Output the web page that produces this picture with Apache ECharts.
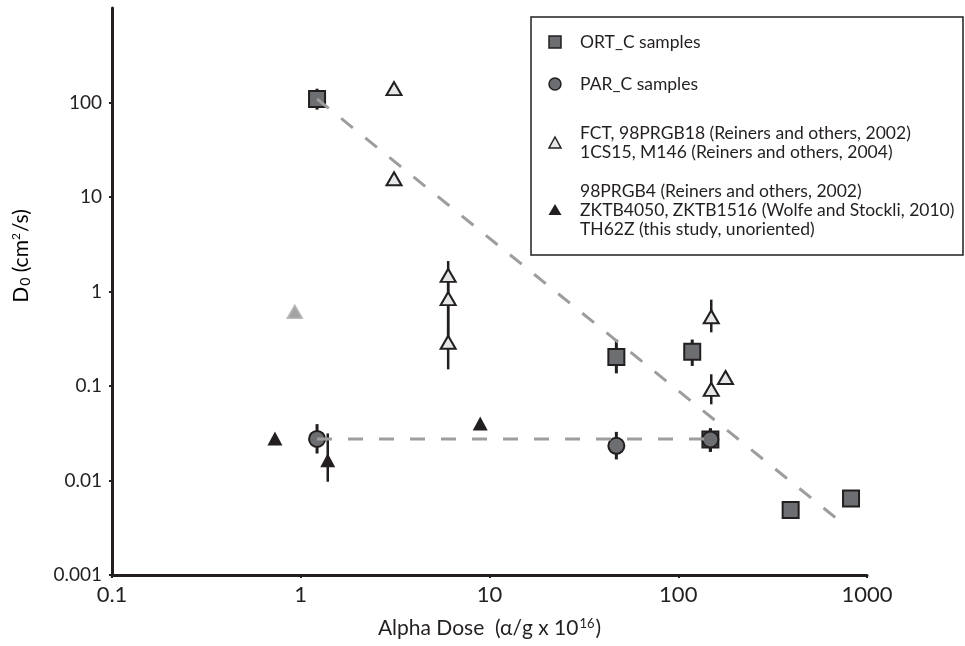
<!DOCTYPE html>
<html>
<head>
<meta charset="utf-8">
<script src="https://cdn.jsdelivr.net/npm/echarts@6/dist/echarts.min.js"></script>
<style>
  html, body { margin: 0; padding: 0; background: #fff; }
  #chart { width: 965px; height: 646px; }
</style>
</head>
<body>
<div id="chart"></div>
<script>
// Axis ticks and labels
const xTicks = [0.1, 1, 10, 100, 1000];
const xTickLabels = ['0.1', '1', '10', '100', '1000'];
const yTicks = [0.001, 0.01, 0.1, 1, 10, 100];
const yTickLabels = ['0.001', '0.01', '0.1', '1', '10', '100'];

// [alpha dose, D0, lower, upper]  (lower/upper null when no error bar)
const ortSamples = [
  [1.22, 109, 84, 140],
  [47, 0.203, 0.136, 0.31],
  [118.6, 0.23, 0.163, 0.31],
  [148, 0.0272, 0.0201, 0.0356],
  [394, 0.00486, null, null],
  [823, 0.00646, null, null]
];
const parSamples = [
  [1.22, 0.0275, 0.0193, 0.0395],
  [47, 0.0233, 0.0167, 0.0327],
  [148, 0.0272, 0.0201, 0.0356]
];
const orientedRefs = [
  [3.12, 140, null, null],
  [3.12, 15.6, null, null],
  [6.04, 1.48, 0.84, 2.1],
  [6.04, 0.84, 0.29, 1.48],
  [6.04, 0.29, 0.15, 0.84],
  [149.6, 0.54, 0.37, 0.82],
  [149.6, 0.092, 0.064, 0.133],
  [178, 0.123, null, null]
];
const grayRef = [
  [0.93, 0.61, null, null]
];
const unorientedRefs = [
  [0.73, 0.0279, null, null],
  [1.39, 0.0164, 0.0097, 0.0315],
  [8.93, 0.040, null, null]
];

// Trend lines
const ortTrend = [[1.22, 109], [781, 0.00324]];
const parTrend = [[1.22, 0.0275], [148, 0.0275]];

const INK = '#231f20';
const FONT = 'Lato, "Open Sans", sans-serif';

function errorBars(data, width) {
  return {
    type: 'custom',
    z: 1,
    silent: true,
    data: data.filter(d => d[2] != null),
    renderItem: function (params, api) {
      const x = api.value(0);
      const p1 = api.coord([x, api.value(2)]);
      const p2 = api.coord([x, api.value(3)]);
      return {
        type: 'line',
        shape: { x1: p1[0], y1: p1[1], x2: p2[0], y2: p2[1] },
        style: { stroke: INK, lineWidth: width }
      };
    },
    encode: { x: 0, y: 1 }
  };
}

function scatter(name, data, symbol, size, fill, stroke, bw) {
  return {
    name: name,
    type: 'scatter',
    z: 2,
    symbol: symbol,
    symbolSize: size,
    data: data.map(d => [d[0], d[1]]),
    itemStyle: { color: fill, borderColor: stroke, borderWidth: bw, opacity: 1 }
  };
}

function trend(data) {
  return {
    type: 'line',
    z: 3,
    data: data,
    symbol: 'none',
    silent: true,
    lineStyle: { color: '#9d9d9d', width: 3, type: [15, 16] }
  };
}

// Boxed key
const legendX = 531, legendY = 17;
const legendText = { fill: INK, font: '17.5px ' + FONT, textVerticalAlign: 'middle' };
const legendGraphics = [
  { type: 'rect', shape: { x: legendX, y: legendY, width: 432, height: 238 },
    style: { fill: '#fff', stroke: INK, lineWidth: 1.5 } },
  { type: 'rect', shape: { x: 549, y: 36, width: 12, height: 12 },
    style: { fill: '#6d6e71', stroke: INK, lineWidth: 1.5 } },
  { type: 'circle', shape: { cx: 555, cy: 84, r: 6 },
    style: { fill: '#6d6e71', stroke: INK, lineWidth: 1.5 } },
  { type: 'polygon', shape: { points: [[555, 137], [561, 148], [549, 148]] },
    style: { fill: '#e6e7e8', stroke: INK, lineWidth: 1.5 } },
  { type: 'polygon', shape: { points: [[555, 204], [561.5, 215], [548.5, 215]] },
    style: { fill: INK } },
  { type: 'text', x: 580, y: 42, style: Object.assign({ text: 'ORT_C samples' }, legendText) },
  { type: 'text', x: 580, y: 84, style: Object.assign({ text: 'PAR_C samples' }, legendText) },
  { type: 'text', x: 580, y: 133, style: Object.assign({ text: 'FCT, 98PRGB18 (Reiners and others, 2002)' }, legendText) },
  { type: 'text', x: 580, y: 152, style: Object.assign({ text: '1CS15, M146 (Reiners and others, 2004)' }, legendText) },
  { type: 'text', x: 580, y: 191, style: Object.assign({ text: '98PRGB4 (Reiners and others, 2002)' }, legendText) },
  { type: 'text', x: 580, y: 210, style: Object.assign({ text: 'ZKTB4050, ZKTB1516 (Wolfe and Stockli, 2010)' }, legendText) },
  { type: 'text', x: 580, y: 229, style: Object.assign({ text: 'TH62Z (this study, unoriented)' }, legendText) },
  // vertical axis title
  { type: 'text', x: 21, y: 256, rotation: Math.PI / 2,
    style: {
      text: '{a|D}{s|0}{a| (cm}{p|2}{a|/s)}',
      textAlign: 'center', textVerticalAlign: 'middle',
      rich: {
        a: { fontSize: 21, fontFamily: FONT, color: INK },
        s: { fontSize: 14, fontFamily: FONT, color: INK, padding: [8, 0, 0, 1] },
        p: { fontSize: 12, fontFamily: FONT, color: INK, padding: [0, 1, 10, 0] }
      }
    } }
];

const chart = echarts.init(document.getElementById('chart'), null, { renderer: 'canvas' });
chart.setOption({
  backgroundColor: '#fff',
  animation: false,
  grid: { left: 112, right: 98, top: 8, bottom: 71 },
  xAxis: {
    type: 'log', logBase: 10, min: 0.1, max: 1000,
    name: '{a|Alpha Dose  (α/g x 10}{p|16}{a|)}',
    nameLocation: 'middle', nameGap: 42,
    nameTextStyle: {
      rich: {
        a: { fontSize: 21, fontFamily: FONT, color: INK },
        p: { fontSize: 13, fontFamily: FONT, color: INK, padding: [0, 1, 10, 1] }
      }
    },
    axisLine: { show: true, lineStyle: { color: INK, width: 3 } },
    axisTick: { show: true, customValues: xTicks, length: 3, lineStyle: { color: INK, width: 2 } },
    minorTick: { show: false },
    splitLine: { show: false },
    axisLabel: {
      customValues: xTicks,
      margin: 9,
      fontSize: 22, fontFamily: FONT, color: INK,
      formatter: v => xTickLabels[xTicks.findIndex(t => Math.abs(Math.log10(t) - Math.log10(v)) < 1e-6)] || ''
    }
  },
  yAxis: {
    type: 'log', logBase: 10, min: 0.001, max: 1000,
    axisLine: { show: true, lineStyle: { color: INK, width: 3 } },
    axisTick: { show: true, customValues: yTicks, length: 3, lineStyle: { color: INK, width: 2 } },
    minorTick: { show: false },
    splitLine: { show: false },
    axisLabel: {
      customValues: yTicks,
      margin: 10,
      fontSize: 19, fontFamily: FONT, color: INK,
      formatter: v => yTickLabels[yTicks.findIndex(t => Math.abs(Math.log10(t) - Math.log10(v)) < 1e-6)] || ''
    }
  },
  graphic: legendGraphics,
  series: [
    errorBars(ortSamples, 3),
    errorBars(parSamples, 3),
    errorBars(orientedRefs, 2.5),
    errorBars(unorientedRefs, 2.5),
    scatter('ORT_C samples', ortSamples, 'rect', 16, '#6d6e71', INK, 2),
    scatter('PAR_C samples', parSamples, 'circle', 16, '#6d6e71', INK, 2),
    scatter('FCT, 98PRGB18 / 1CS15, M146', orientedRefs, 'triangle', [15, 13], '#e6e7e8', INK, 2),
    scatter('98PRGB4', grayRef, 'triangle', [15, 13], '#a2a4a6', '#b8b8b8', 1.5),
    scatter('98PRGB4 / ZKTB / TH62Z', unorientedRefs, 'triangle', [15, 14], INK, INK, 0),
    trend(ortTrend),
    trend(parTrend)
  ]
});
</script>
</body>
</html>
